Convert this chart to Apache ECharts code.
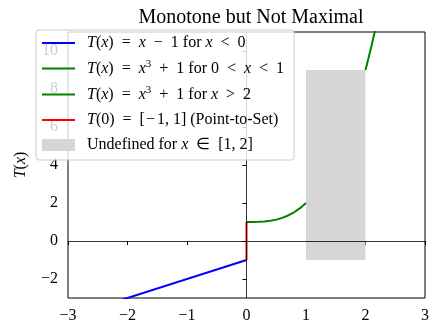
<!DOCTYPE html>
<html>
<head>
<meta charset="utf-8">
<script src="https://cdn.jsdelivr.net/npm/echarts@6/dist/echarts.min.js"></script>
<style>
  html, body { margin: 0; padding: 0; background: #fff; }
  #chart { width: 432px; height: 327px; }
</style>
</head>
<body>
<div id="chart"></div>
<script>
// Piecewise operator T(x)
const blueX = [-3, 0];
const blueY = [-4, -1];
const green1X = [0, 0.1, 0.2, 0.3, 0.4, 0.5, 0.6, 0.7, 0.8, 0.9, 1];
const green1Y = [1, 1.001, 1.008, 1.027, 1.064, 1.125, 1.216, 1.343, 1.512, 1.729, 2];
const green2X = [2, 2.05, 2.1, 2.15, 2.2, 2.25];
const green2Y = [9, 9.615, 10.261, 10.939, 11.648, 12.391];
const redX = [0, 0];
const redY = [-1, 1];
// undefined region [x0, y0, x1, y1]
const undefinedBox = [1, -1, 2, 9];

const xTicks = [-3, -2, -1, 0, 1, 2, 3];
const yTicks = [-2, 0, 2, 4, 6, 8, 10];

const names = [
  'T(x) = x - 1 for x < 0',
  'T(x) = x^3 + 1 for 0 < x < 1',
  'T(x) = x^3 + 1 for x > 2',
  'T(0) = [-1, 1] (Point-to-Set)',
  'Undefined for x in [1, 2]'
];
const richNames = {};
richNames[names[0]] = '{i|T}({i|x}) {o|=} {i|x} {o|\u2212} 1 for {i|x} {o|<} 0';
richNames[names[1]] = '{i|T}({i|x}) {o|=} {i|x}{s|3} {o|+} 1 for 0 {o|<} {i|x} {o|<} 1';
richNames[names[2]] = '{i|T}({i|x}) {o|=} {i|x}{s|3} {o|+} 1 for {i|x} {o|>} 2';
richNames[names[3]] = '{i|T}(0) {o|=} [{m|\u2212}1, 1] (Point-to-Set)';
richNames[names[4]] = 'Undefined for {i|x} {o|\u2208} [1, 2]';

const pairs = (xs, ys) => xs.map((x, i) => [x, ys[i]]);
const FONT = 'Liberation Serif';
const FS = 16;
const minus = v => String(v).replace('-', '\u2212');

const chart = echarts.init(document.getElementById('chart'), null, { renderer: 'canvas' });

const lineSeries = (name, xs, ys, color) => ({
  name, type: 'line', data: pairs(xs, ys), showSymbol: false, symbol: 'none',
  lineStyle: { color, width: 2 }, itemStyle: { color }, clip: true, z: 3,
  animation: false
});

chart.setOption({
  animation: false,
  title: {
    text: 'Monotone but Not Maximal',
    left: 246, top: 3, textAlign: 'center',
    textStyle: { fontFamily: FONT, fontWeight: 'normal', fontSize: 20, color: '#000' }
  },
  grid: { left: 68, right: 6, top: 32, bottom: 29, show: true, borderColor: '#000', borderWidth: 1, backgroundColor: 'transparent' },
  xAxis: {
    type: 'value', min: -3, max: 3, interval: 1,
    axisLine: { show: false },
    axisTick: { show: true, inside: false, length: 4, lineStyle: { color: '#000' }, customValues: xTicks },
    axisLabel: { fontFamily: FONT, fontSize: FS, color: '#000', margin: 10, customValues: xTicks, formatter: minus },
    splitLine: { show: false }
  },
  yAxis: {
    type: 'value', min: -3, max: 11,
    name: '{i|T}({i|x})', nameLocation: 'middle', nameRotate: 90, nameGap: 39,
    nameTextStyle: { fontFamily: FONT, fontSize: FS, color: '#000', rich: { i: { fontFamily: FONT, fontStyle: 'italic', fontSize: FS } } },
    axisLine: { show: false },
    axisTick: { show: true, inside: false, length: 4, lineStyle: { color: '#000' }, customValues: yTicks },
    axisLabel: { fontFamily: FONT, fontSize: FS, color: '#000', margin: 10, customValues: yTicks, formatter: minus },
    splitLine: { show: false }
  },
  legend: {
    orient: 'vertical', left: 36, top: 30,
    padding: [4, 10, 6, 5],
    itemWidth: 33, itemHeight: 12, itemGap: 7,
    backgroundColor: 'rgba(255,255,255,0.8)', borderColor: '#cccccc', borderWidth: 1, borderRadius: 3,
    data: [
      { name: names[0], itemStyle: { opacity: 0 } },
      { name: names[1], itemStyle: { opacity: 0 } },
      { name: names[2], itemStyle: { opacity: 0 } },
      { name: names[3], itemStyle: { opacity: 0 } },
      { name: names[4], icon: 'rect', itemStyle: { color: '#d6d6d6' } }
    ],
    formatter: n => richNames[n],
    textStyle: {
      fontFamily: FONT, fontSize: FS, color: '#000', lineHeight: 18, padding: [0, 0, 0, 7],
      rich: {
        i: { fontFamily: FONT, fontStyle: 'italic', fontSize: FS, lineHeight: 18 },
        o: { fontFamily: FONT, fontSize: FS, lineHeight: 18, padding: [0, 4, 0, 4] },
        m: { fontFamily: FONT, fontSize: FS, lineHeight: 18, padding: [0, 2, 0, 1] },
        s: { fontFamily: FONT, fontSize: 11, lineHeight: 18, padding: [0, 0, 8, 0] }
      }
    },
    z: 10
  },
  series: [
    lineSeries(names[0], blueX, blueY, '#0000ff'),
    lineSeries(names[1], green1X, green1Y, '#008000'),
    lineSeries(names[2], green2X, green2Y, '#008000'),
    lineSeries(names[3], redX, redY, '#ff0000'),
    {
      name: names[4], type: 'custom', z: 2,
      itemStyle: { color: '#d6d6d6' },
      encode: { x: [0, 2], y: [1, 3] },
      data: [undefinedBox],
      renderItem: (params, api) => {
        const p0 = api.coord([api.value(0), api.value(3)]);
        const p1 = api.coord([api.value(2), api.value(1)]);
        return { type: 'rect', shape: { x: p0[0], y: p0[1], width: p1[0] - p0[0], height: p1[1] - p0[1] }, style: { fill: '#d6d6d6' } };
      }
    },
    {
      name: 'zero lines', type: 'line', data: [], z: 1,
      markLine: {
        silent: true, symbol: 'none', animation: false,
        label: { show: false },
        lineStyle: { color: '#000', width: 0.8, type: 'solid' },
        data: [{ yAxis: 0 }, { xAxis: 0 }]
      }
    }
  ]
});
</script>
</body>
</html>
